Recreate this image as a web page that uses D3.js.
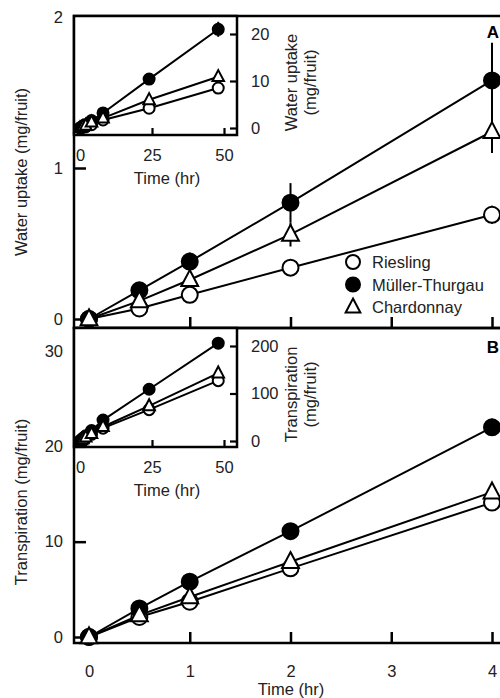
<!DOCTYPE html>
<html>
<head>
<meta charset="utf-8">
<script src="https://cdn.jsdelivr.net/npm/d3@7"></script>
<style>
  body { margin: 0; background: #fff; }
  svg { display: block; font-family: "Liberation Sans", Arial, sans-serif; }
</style>
</head>
<body>
<div id="chart"></div>
<script>
const times = [0, 0.5, 1, 2, 4];
const insetTimes = [0, 0.5, 1, 2, 4, 8, 24, 48];
const varieties = ["Riesling", "Müller-Thurgau", "Chardonnay"];

// panel A: water uptake (mg/fruit)
const uptakeRiesling = [0, 0.07, 0.16, 0.34, 0.69];
const uptakeMuller = [0, 0.19, 0.38, 0.77, 1.58];
const uptakeChardonnay = [0, 0.12, 0.26, 0.56, 1.24];
const uptakeErrRiesling = [0, 0.01, 0.02, 0.03, 0.06];
const uptakeErrMuller = [0, 0.02, 0.06, 0.13, 0.25];
const uptakeErrChardonnay = [0, 0.02, 0.04, 0.08, 0.14];

const insetUptakeRiesling = [0, 0.07, 0.16, 0.34, 0.69, 1.7, 4.2, 8.5];
const insetUptakeMuller = [0, 0.19, 0.38, 0.77, 1.58, 3.2, 10.4, 21.0];
const insetUptakeChardonnay = [0, 0.12, 0.26, 0.56, 1.24, 2.1, 6.0, 10.9];
const insetUptakeErrMuller = [0, 0, 0, 0, 0, 0.3, 0.4, 1.6];

// panel B: transpiration (mg/fruit)
const transpRiesling = [0, 2.1, 3.7, 7.2, 14.1];
const transpMuller = [0, 3.0, 5.8, 11.1, 22.0];
const transpChardonnay = [0, 2.3, 4.2, 7.9, 15.2];
const transpErrMuller = [0, 0.2, 0.3, 0.4, 0.9];

const insetTranspRiesling = [0, 2.1, 3.7, 7.2, 14.1, 27, 66, 127];
const insetTranspMuller = [0, 3.0, 5.8, 11.1, 22.0, 44, 109, 206];
const insetTranspChardonnay = [0, 2.3, 4.2, 7.9, 15.2, 30, 74, 143];

const mainXTicks = [0, 1, 2, 3, 4];
const uptakeTicks = [0, 1, 2];
const transpTicks = [0, 10, 20, 30];
const insetXTicks = [0, 25, 50];
const insetUptakeTicks = [0, 10, 20];
const insetTranspTicks = [0, 100, 200];

const width = 500, height = 698;
const left = 74, right = 505;
const fontSize = 16.5;

const svg = d3.select("#chart").append("svg")
  .attr("width", width).attr("height", height)
  .attr("viewBox", [0, 0, width, height]);

const x = d3.scaleLinear([0, 4], [89, 492]);
const xInset = d3.scaleLinear([0, 50], [80, 224]);

// marker drawing
const marker = (g, kind, r) => {
  if (kind === "triangle") {
    const h = r * 1.05;
    g.append("path")
      .attr("d", `M0,${-h * 1.15}L${h},${h * 0.75}L${-h},${h * 0.75}Z`)
      .attr("fill", "#fff").attr("stroke", "#000").attr("stroke-width", 2)
      .attr("stroke-linejoin", "miter");
  } else {
    g.append("circle").attr("r", r)
      .attr("fill", kind === "filled" ? "#000" : "#fff")
      .attr("stroke", "#000").attr("stroke-width", 2);
  }
};
const kinds = ["open", "filled", "triangle"];

const drawSeries = (g, xs, xScale, yScale, series, errs, r) => {
  const line = d3.line().x((d) => xScale(d[0])).y((d) => yScale(d[1]));
  series.forEach((vals) => {
    g.append("path")
      .datum(d3.zip(xs, vals))
      .attr("fill", "none").attr("stroke", "#000").attr("stroke-width", 2)
      .attr("d", line);
  });
  series.forEach((vals, k) => {
    const e = errs[k];
    if (!e) return;
    vals.forEach((v, i) => {
      if (!e[i]) return;
      g.append("line")
        .attr("x1", xScale(xs[i])).attr("x2", xScale(xs[i]))
        .attr("y1", yScale(v - e[i])).attr("y2", yScale(v + e[i]))
        .attr("stroke", "#000").attr("stroke-width", 2);
    });
  });
  series.forEach((vals, k) => {
    vals.forEach((v, i) => {
      const m = g.append("g").attr("transform", `translate(${xScale(xs[i])},${yScale(v)})`);
      marker(m, kinds[k], r);
    });
  });
};

const drawPanel = ({ top, bottom, y, yTicks, yLabel, labelY, letter, letterY, showX }) => {
  const g = svg.append("g");
  // y ticks (inward) and labels
  g.append("g")
    .attr("transform", `translate(${left},0)`)
    .call(d3.axisLeft(y).tickValues(yTicks).tickSize(-12).tickPadding(11).tickFormat(d3.format("d")))
    .call((a) => a.select(".domain").remove())
    .call((a) => a.selectAll("line").attr("stroke-width", 2.5))
    .call((a) => a.selectAll("text").attr("font-size", fontSize).attr("font-family", null).attr("fill", "#222"));
  // x ticks (inward from bottom)
  const xa = g.append("g")
    .attr("transform", `translate(0,${bottom})`)
    .call(d3.axisBottom(x).tickValues(mainXTicks).tickSize(-11).tickPadding(22).tickFormat(d3.format("d")))
    .call((a) => a.select(".domain").remove())
    .call((a) => a.selectAll("line").attr("stroke-width", 2.5))
    .call((a) => a.selectAll("text").attr("font-size", fontSize).attr("font-family", null).attr("fill", "#222"));
  if (!showX) xa.selectAll("text").remove();
  // frame
  g.append("path")
    .attr("d", `M${right},${top}H${left}V${bottom}H${right}`)
    .attr("fill", "none").attr("stroke", "#000").attr("stroke-width", 2.5);
  g.append("text")
    .attr("transform", `translate(27,${labelY}) rotate(-90)`)
    .attr("text-anchor", "middle").attr("font-size", fontSize).attr("fill", "#222")
    .text(yLabel);
  g.append("text")
    .attr("x", 493).attr("y", letterY).attr("text-anchor", "middle")
    .attr("font-size", 17).attr("font-weight", "bold")
    .text(letter);
  return g;
};

const drawInset = ({ top, bottom, y, yTicks, labels, series, errs }) => {
  const g = svg.append("g");
  g.append("rect")
    .attr("x", left).attr("y", top).attr("width", 237 - left).attr("height", bottom - top)
    .attr("fill", "#fff");
  g.append("g")
    .attr("transform", `translate(237,0)`)
    .call(d3.axisRight(y).tickValues(yTicks).tickSize(-7).tickPadding(14))
    .call((a) => a.select(".domain").remove())
    .call((a) => a.selectAll("line").attr("stroke-width", 2.2))
    .call((a) => a.selectAll("text").attr("font-size", fontSize).attr("font-family", null).attr("fill", "#222"));
  g.append("g")
    .attr("transform", `translate(0,${bottom})`)
    .call(d3.axisBottom(xInset).tickValues(insetXTicks).tickSize(-7).tickPadding(14))
    .call((a) => a.select(".domain").remove())
    .call((a) => a.selectAll("line").attr("stroke-width", 2.2))
    .call((a) => a.selectAll("text").attr("font-size", fontSize).attr("font-family", null).attr("fill", "#222"));
  g.append("text")
    .attr("x", 167).attr("y", bottom + 49).attr("text-anchor", "middle")
    .attr("font-size", fontSize).attr("fill", "#222").text("Time (hr)");
  labels.forEach((t, i) => {
    g.append("text")
      .attr("transform", `translate(${297 + i * 19},${(top + bottom) / 2 + 7}) rotate(-90)`)
      .attr("text-anchor", "middle").attr("font-size", fontSize).attr("fill", "#222")
      .text(t);
  });
  drawSeries(g.append("g"), insetTimes, xInset, y, series, errs, 5.5);
  g.append("rect")
    .attr("x", left).attr("y", top).attr("width", 237 - left).attr("height", bottom - top)
    .attr("fill", "none").attr("stroke", "#000").attr("stroke-width", 2.5);
};

// panel A
const yA = d3.scaleLinear([0, 2], [319, 17]);
const pA = drawPanel({
  top: 16, bottom: 328, y: yA, yTicks: uptakeTicks,
  yLabel: "Water uptake (mg/fruit)", labelY: 172, letter: "A", letterY: 38, showX: false
});
drawSeries(pA, times, x, yA,
  [uptakeRiesling, uptakeMuller, uptakeChardonnay],
  [uptakeErrRiesling, uptakeErrMuller, uptakeErrChardonnay], 8);

// legend
const legend = svg.append("g").attr("transform", "translate(353,262)");
varieties.forEach((name, i) => {
  const row = legend.append("g").attr("transform", `translate(0,${i * 22.5})`);
  marker(row.append("g"), kinds[i], 7);
  row.append("text").attr("x", 19).attr("y", 6)
    .attr("font-size", fontSize).attr("fill", "#222").text(name);
});

drawInset({
  top: 16, bottom: 135, y: d3.scaleLinear([0, 20], [128, 34]), yTicks: insetUptakeTicks,
  labels: ["Water uptake", "(mg/fruit)"],
  series: [insetUptakeRiesling, insetUptakeMuller, insetUptakeChardonnay],
  errs: [null, insetUptakeErrMuller, null]
});

// panel B
const yB = d3.scaleLinear([0, 30], [637, 351]);
const pB = drawPanel({
  top: 328, bottom: 643, y: yB, yTicks: transpTicks,
  yLabel: "Transpiration (mg/fruit)", labelY: 502, letter: "B", letterY: 353, showX: true
});
drawSeries(pB, times, x, yB,
  [transpRiesling, transpMuller, transpChardonnay],
  [null, transpErrMuller, null], 8);

drawInset({
  top: 328, bottom: 447, y: d3.scaleLinear([0, 200], [441, 346]), yTicks: insetTranspTicks,
  labels: ["Transpiration", "(mg/fruit)"],
  series: [insetTranspRiesling, insetTranspMuller, insetTranspChardonnay],
  errs: [null, null, null]
});

svg.append("text")
  .attr("x", 291).attr("y", 695).attr("text-anchor", "middle")
  .attr("font-size", fontSize).attr("fill", "#222").text("Time (hr)");
</script>
</body>
</html>
